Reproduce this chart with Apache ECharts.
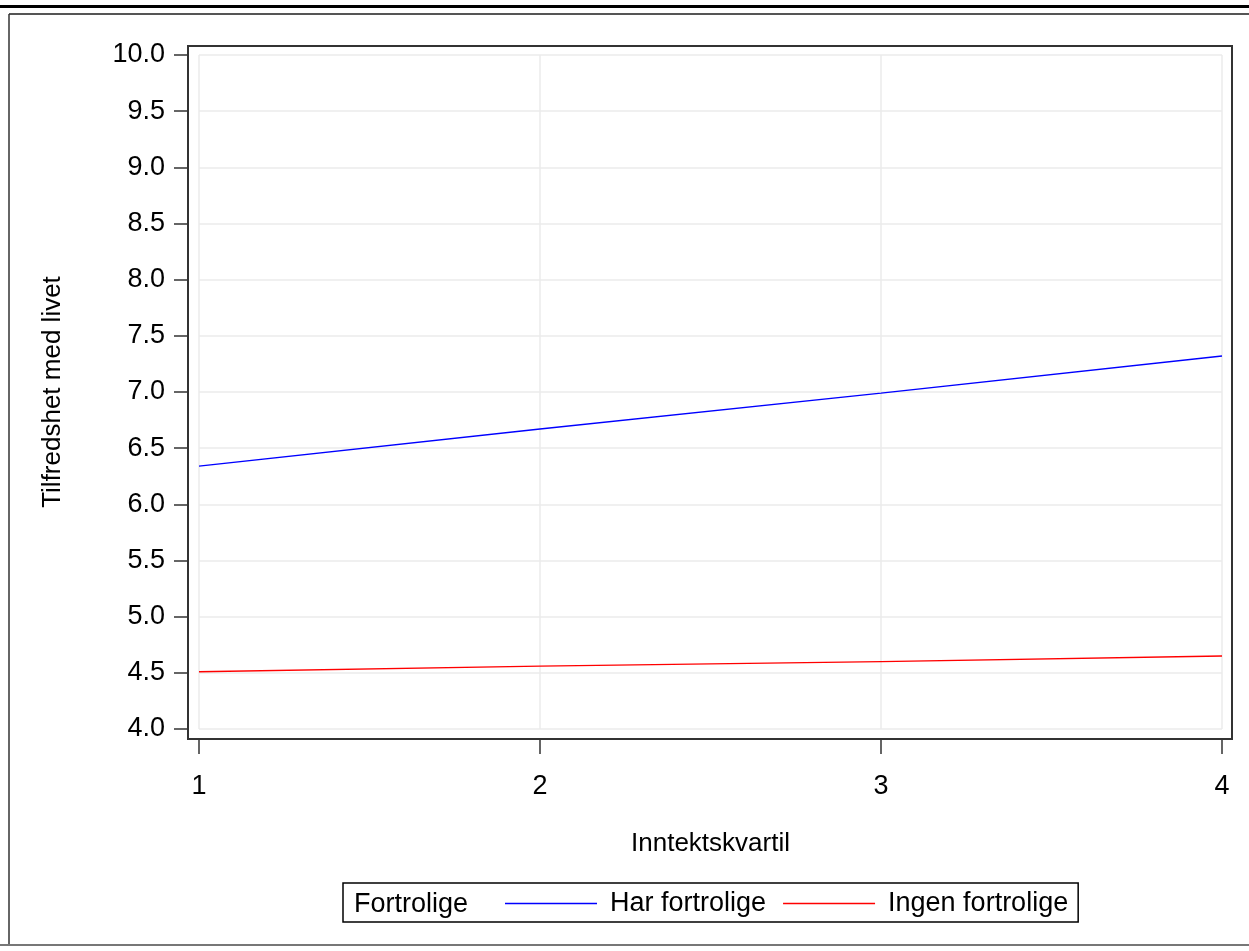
<!DOCTYPE html>
<html>
<head>
<meta charset="utf-8">
<script src="https://cdn.jsdelivr.net/npm/echarts@6/dist/echarts.min.js"></script>
<style>
html,body{margin:0;padding:0;background:#fff;}
#chart{width:1249px;height:951px;}
</style>
</head>
<body>
<div id="chart"></div>
<script>
// Data
const quartiles = [1, 2, 3, 4];
const harFortrolige = [6.34, 6.67, 6.99, 7.32];
const ingenFortrolige = [4.51, 4.56, 4.60, 4.65];
const seriesNames = ['Har fortrolige', 'Ingen fortrolige'];
const legendTitle = 'Fortrolige';
const xTitle = 'Inntektskvartil';
const yTitle = 'Tilfredshet med livet';

const FONT = "'Liberation Sans', Arial, sans-serif";
const chart = echarts.init(document.getElementById('chart'), null, {renderer: 'canvas'});

const toPairs = (xs, ys) => xs.map((x, i) => [x, ys[i]]);

chart.setOption({
  backgroundColor: '#fff',
  animation: false,
  grid: {left: 199, right: 27, top: 55, bottom: 222, containLabel: false},
  xAxis: {
    type: 'value', min: 1, max: 4, interval: 1,
    offset: 10,
    name: xTitle, nameLocation: 'middle', nameGap: 92,
    nameTextStyle: {fontFamily: FONT, fontSize: 26, color: '#000'},
    axisLine: {show: true, lineStyle: {color: '#333', width: 2}},
    axisTick: {show: true, length: 15, lineStyle: {color: '#333', width: 1.5}},
    axisLabel: {fontFamily: FONT, fontSize: 27, color: '#000', margin: 34},
    splitLine: {show: true, lineStyle: {color: '#ebebeb', width: 1.5}}
  },
  yAxis: {
    type: 'value', min: 4, max: 10, interval: 0.5,
    offset: 11,
    name: yTitle, nameLocation: 'middle', nameGap: 122, nameRotate: 90,
    nameTextStyle: {fontFamily: FONT, fontSize: 26, color: '#000'},
    axisLine: {show: true, lineStyle: {color: '#333', width: 2}},
    axisTick: {show: true, length: 14, lineStyle: {color: '#333', width: 1.5}},
    axisLabel: {fontFamily: FONT, fontSize: 27, color: '#000', margin: 23,
      formatter: v => v.toFixed(1)},
    splitLine: {show: true, lineStyle: {color: '#ebebeb', width: 1.5}}
  },
  legend: {
    left: 343, top: 883,
    data: seriesNames,
    orient: 'horizontal',
    padding: [7, 10, 5, 162],
    itemGap: 17,
    icon: 'path://M0,0 L92,0 L92,1.4 L0,1.4 Z',
    itemWidth: 92, itemHeight: 1.4,
    borderColor: '#000', borderWidth: 1.5,
    backgroundColor: '#fff',
    textStyle: {fontFamily: FONT, fontSize: 27, color: '#000', padding: [0, 0, 0, 8]}
  },
  series: [
    {name: seriesNames[0], type: 'line', data: toPairs(quartiles, harFortrolige),
     symbol: 'none', lineStyle: {color: '#0000ff', width: 1.4}, itemStyle: {color: '#0000ff'}},
    {name: seriesNames[1], type: 'line', data: toPairs(quartiles, ingenFortrolige),
     symbol: 'none', lineStyle: {color: '#ff0000', width: 1.4}, itemStyle: {color: '#ff0000'}}
  ],
  graphic: [
    // top heavy rule
    {type: 'rect', shape: {x: 0, y: 5, width: 1249, height: 3}, style: {fill: '#000'}, silent: true},
    // outer frame lines
    {type: 'line', shape: {x1: 9, y1: 14, x2: 1249, y2: 14}, style: {stroke: '#555', lineWidth: 2}, silent: true},
    {type: 'line', shape: {x1: 9, y1: 14, x2: 9, y2: 945}, style: {stroke: '#333', lineWidth: 1.5}, silent: true},
    {type: 'line', shape: {x1: 0, y1: 945, x2: 1249, y2: 945}, style: {stroke: '#777', lineWidth: 2}, silent: true},
    // plot frame
    {type: 'rect', shape: {x: 188, y: 46, width: 1044, height: 693},
     style: {fill: null, stroke: '#333', lineWidth: 2}, silent: true, z: 5},
    // legend title
    {type: 'text', left: 354, top: 891, z: 10,
     style: {text: legendTitle, font: "27px " + FONT, fill: '#000'}}
  ]
});
</script>
</body>
</html>
